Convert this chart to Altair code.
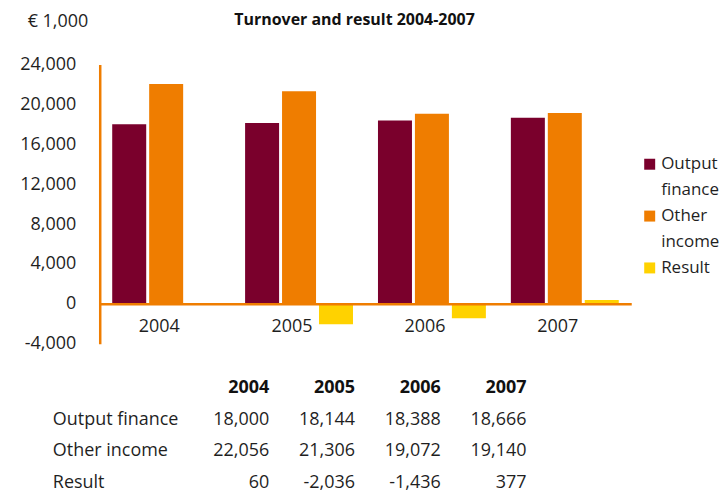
import altair as alt
import pandas as pd

# ---- data ----
years = ["2004", "2005", "2006", "2007"]
series = ["Output finance", "Other income", "Result"]
output_finance = [18000, 18144, 18388, 18666]
other_income = [22056, 21306, 19072, 19140]
result = [60, -2036, -1436, 377]
y_ticks = [-4000, 0, 4000, 8000, 12000, 16000, 20000, 24000]

# ---- style ----
colors = ["#7A002C", "#EF7D00", "#FFD200"]
ORANGE = "#EF7D00"
FONT = "Open Sans"
TEXT = "#1f1f1f"
FS = 18
W, H = 533, 280

values_by_series = [output_finance, other_income, result]
bar_df = pd.DataFrame(
    [{"year": y, "series": s, "value": v}
     for s, vals in zip(series, values_by_series) for y, v in zip(years, vals)]
)
color_scale = alt.Scale(domain=series, range=colors)
y_scale = alt.Scale(domain=[-4000, 24000], nice=False, zero=False)

# the x axis sits on the zero value; its orange domain line is the zero line
bars = alt.Chart(bar_df).mark_bar().encode(
    x=alt.X(
        "year:N", sort=years,
        scale=alt.Scale(paddingInner=0.188, paddingOuter=0.094),
        axis=alt.Axis(title=None, orient="bottom", offset=-40, domain=True,
                      domainColor=ORANGE, domainWidth=2.5, zindex=1, ticks=False,
                      labelAngle=0, labelPadding=14, labelOffset=-7, labelFontSize=FS,
                      labelFont=FONT, labelColor=TEXT),
    ),
    xOffset=alt.XOffset("series:N", sort=series, scale=alt.Scale(paddingInner=0.08)),
    y=alt.Y(
        "value:Q",
        scale=y_scale,
        axis=alt.Axis(values=y_ticks, format=",.0f",
                      labelExpr="replace(datum.label, '\u2212', '-')",
                      title="€ 1,000", titleAngle=0,
                      titleX=-12, titleY=-43, titleAlign="right", titleBaseline="middle",
                      titleFontSize=FS, titleFontWeight="normal", titleFont=FONT,
                      titleColor=TEXT, domainColor=ORANGE, domainWidth=2.5, ticks=False,
                      grid=False, labelPadding=24, labelFontSize=FS, labelFont=FONT,
                      labelColor=TEXT, labelOverlap=False, labelBound=False,
                      labelFlush=False),
    ),
    color=alt.Color("series:N", scale=color_scale, legend=None),
)

# ---- legend (custom, two-line labels), drawn to the right of the plot ----
leg_rows = []
line = 0
for s in series:
    for j, w in enumerate(s.split(" ")):
        leg_rows.append({"line": line, "word": w, "series": s, "first": j == 0})
        line += 1
leg_df = pd.DataFrame(leg_rows)
leg_y = alt.Y("line:O", scale=alt.Scale(type="point", domain=list(range(line)),
                                         range=[100, 204], padding=0), axis=None)
leg_text = alt.Chart(leg_df).mark_text(
    align="left", baseline="middle", font=FONT, fontSize=17, color=TEXT
).encode(x=alt.value(W + 30), y=leg_y, text="word:N")
leg_sym = alt.Chart(leg_df).transform_filter("datum.first").mark_square(
    size=121, opacity=1
).encode(x=alt.value(W + 18.5), y=leg_y,
         color=alt.Color("series:N", scale=color_scale, legend=None))

main = alt.layer(bars, leg_sym, leg_text).resolve_scale(y="independent").properties(
    width=W, height=H,
    title=alt.TitleParams("Turnover and result 2004-2007", font=FONT, fontSize=16,
                          fontWeight="bold", color="#111111", anchor="middle",
                          frame="group", dx=-11, offset=-15),
)

# ---- table ----
tbl_rows = []
for r, (s, vals) in enumerate(zip(series, values_by_series), start=1):
    for y, v in zip(years, vals):
        tbl_rows.append({"row": r, "col": y, "text": f"{v:,}"})
tbl_df = pd.DataFrame(tbl_rows)
lab_df = pd.DataFrame({"row": [1, 2, 3], "text": series})
head_df = pd.DataFrame({"row": [0] * len(years), "col": years, "text": years})

t_x = alt.X("col:N", sort=years, scale=alt.Scale(type="point", domain=years,
                                                  range=[170, 428], padding=0), axis=None)
t_y = alt.Y("row:O", scale=alt.Scale(type="point", domain=[0, 1, 2, 3], range=[0, 96],
                                     padding=0), axis=None)

t_vals = alt.Chart(tbl_df).mark_text(
    align="right", baseline="middle", font=FONT, fontSize=FS, color=TEXT
).encode(x=t_x, y=t_y, text="text:N")
t_head = alt.Chart(head_df).mark_text(
    align="right", baseline="middle", font=FONT, fontSize=FS, fontWeight="bold",
    color="#111111"
).encode(x=t_x, y=t_y, text="text:N")
t_lab = alt.Chart(lab_df).mark_text(
    align="left", baseline="middle", font=FONT, fontSize=FS, color=TEXT
).encode(x=alt.value(-47), y=t_y, text="text:N")
table = alt.layer(t_head, t_vals, t_lab).properties(width=W, height=96)

chart = alt.vconcat(main, table, spacing=44, bounds="flush").properties(
    padding={"left": 19, "top": 11, "right": 0, "bottom": 0}
).configure_view(stroke=None).configure_axis(labelOverlap=False)

chart.save("out.html", embed_options={"renderer": "svg", "actions": False})
